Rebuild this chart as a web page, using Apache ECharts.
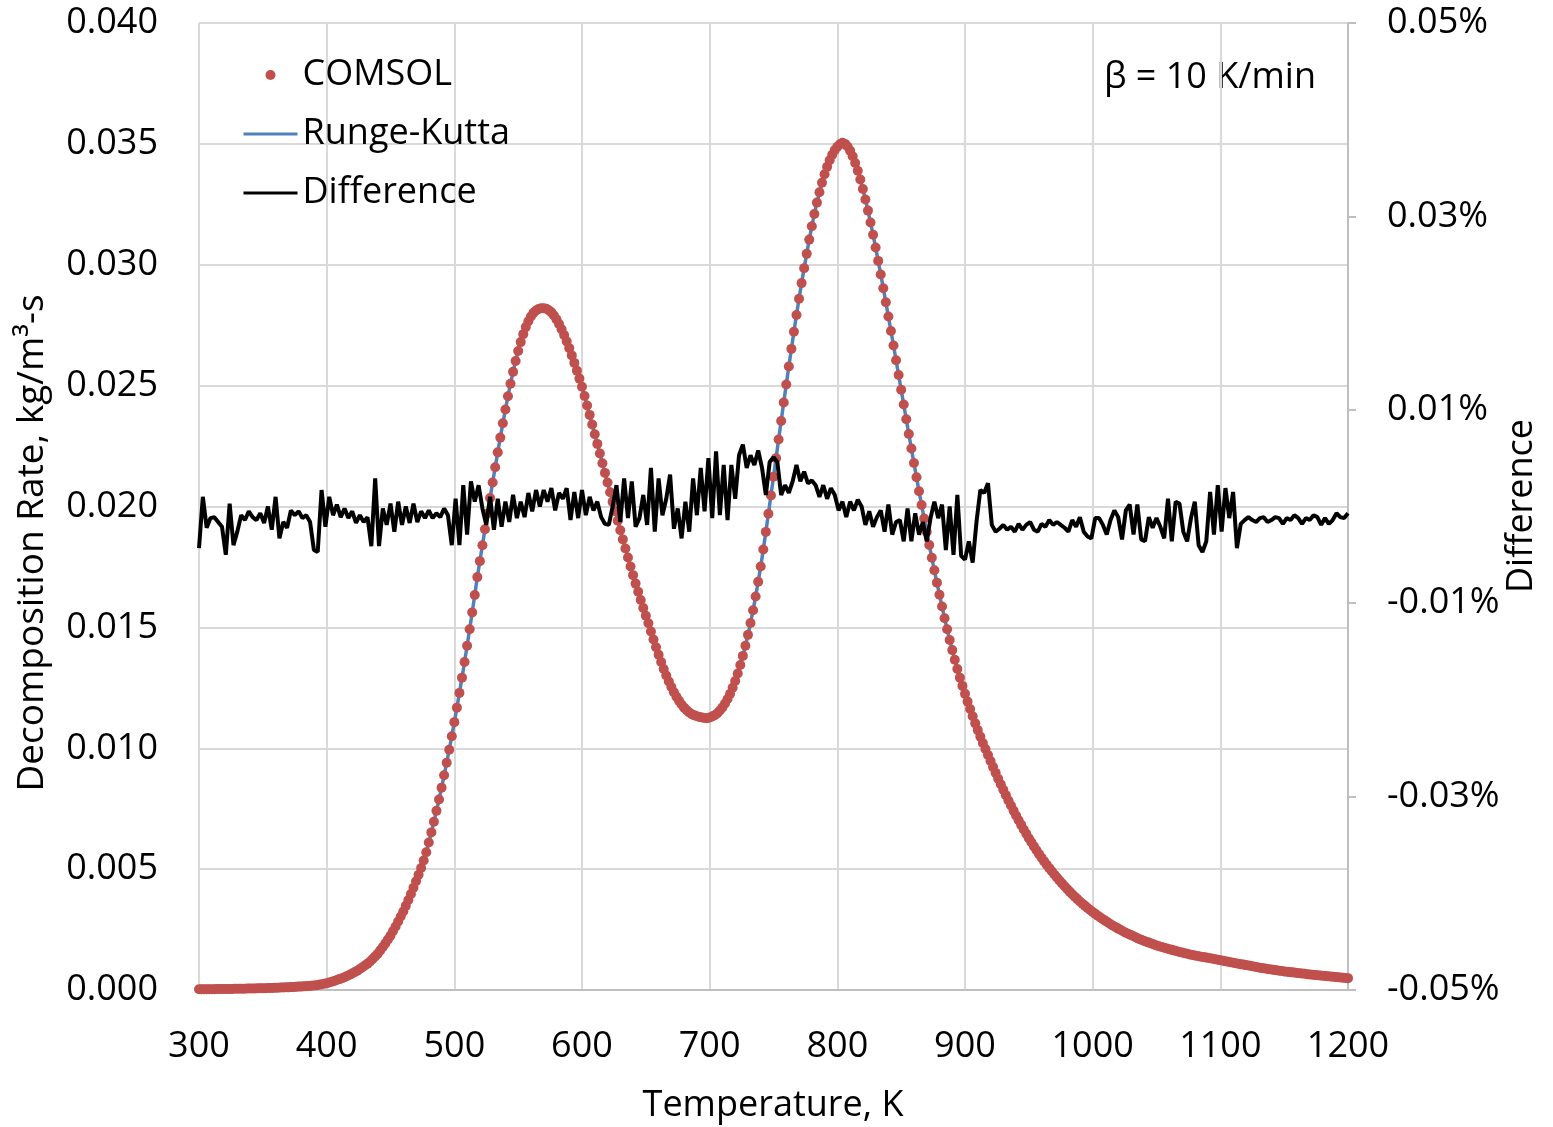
<!DOCTYPE html>
<html>
<head>
<meta charset="utf-8">
<script src="https://cdn.jsdelivr.net/npm/echarts@6/dist/echarts.min.js"></script>
<style>
html,body{margin:0;padding:0;background:#fff;}
#chart{width:1553px;height:1127px;}
</style>
</head>
<body>
<div id="chart"></div>
<script>
// Temperature grid (K)
const T_START = 300;
const RATE_STEP = 2;   // COMSOL / Runge-Kutta sample spacing, K
const DIFF_STEP = 3;   // Difference sample spacing, K

// Decomposition rate, kg/m3-s, T = 300, 302, ... 1200 (5 values per 10 K row)
const rate = [
0.00003,0.00003,0.00003,0.00003,0.00003,
0.00003,0.00003,0.00004,0.00004,0.00004,
0.00004,0.00004,0.00004,0.00004,0.00005,
0.00005,0.00005,0.00005,0.00005,0.00006,
0.00006,0.00006,0.00006,0.00007,0.00007,
0.00007,0.00007,0.00008,0.00008,0.00008,
0.00009,0.00009,0.00010,0.00010,0.00011,
0.00011,0.00012,0.00012,0.00013,0.00014,
0.00014,0.00015,0.00016,0.00017,0.00018,
0.00019,0.00020,0.00022,0.00024,0.00026,
0.00028,0.00031,0.00034,0.00037,0.00041,
0.00045,0.00049,0.00053,0.00058,0.00063,
0.00068,0.00074,0.00080,0.00087,0.00094,
0.00101,0.00109,0.00118,0.00128,0.00139,
0.00150,0.00164,0.00178,0.00193,0.00209,
0.00225,0.00244,0.00263,0.00283,0.00304,
0.00325,0.00348,0.00372,0.00397,0.00423,
0.00450,0.00477,0.00505,0.00536,0.00570,
0.00610,0.00652,0.00696,0.00741,0.00788,
0.00837,0.00888,0.00940,0.00994,0.01050,
0.01108,0.01168,0.01229,0.01292,0.01357,
0.01424,0.01492,0.01562,0.01634,0.01708,
0.01774,0.01840,0.01906,0.01971,0.02035,
0.02099,0.02162,0.02224,0.02285,0.02344,
0.02401,0.02456,0.02508,0.02557,0.02602,
0.02643,0.02680,0.02713,0.02742,0.02766,
0.02786,0.02801,0.02811,0.02817,0.02820,
0.02820,0.02818,0.02812,0.02803,0.02790,
0.02774,0.02755,0.02733,0.02709,0.02683,
0.02655,0.02625,0.02594,0.02562,0.02529,
0.02495,0.02457,0.02418,0.02379,0.02339,
0.02299,0.02259,0.02219,0.02179,0.02139,
0.02099,0.02059,0.02019,0.01980,0.01941,
0.01902,0.01864,0.01826,0.01789,0.01752,
0.01716,0.01681,0.01647,0.01613,0.01580,
0.01548,0.01517,0.01483,0.01450,0.01418,
0.01387,0.01357,0.01328,0.01301,0.01276,
0.01253,0.01232,0.01213,0.01196,0.01181,
0.01168,0.01157,0.01148,0.01141,0.01136,
0.01132,0.01129,0.01127,0.01125,0.01124,
0.01127,0.01131,0.01137,0.01145,0.01156,
0.01169,0.01185,0.01204,0.01225,0.01250,
0.01278,0.01309,0.01344,0.01382,0.01424,
0.01469,0.01518,0.01571,0.01628,0.01689,
0.01752,0.01822,0.01895,0.01970,0.02046,
0.02123,0.02200,0.02277,0.02354,0.02430,
0.02505,0.02579,0.02652,0.02723,0.02792,
0.02859,0.02924,0.02986,0.03045,0.03104,
0.03159,0.03210,0.03257,0.03300,0.03339,
0.03374,0.03405,0.03432,0.03455,0.03474,
0.03488,0.03498,0.03505,0.03500,0.03489,
0.03472,0.03449,0.03421,0.03389,0.03353,
0.03313,0.03270,0.03224,0.03175,0.03124,
0.03071,0.03016,0.02960,0.02903,0.02845,
0.02786,0.02726,0.02666,0.02605,0.02544,
0.02483,0.02422,0.02361,0.02300,0.02240,
0.02180,0.02121,0.02063,0.02006,0.01950,
0.01895,0.01841,0.01788,0.01736,0.01685,
0.01635,0.01586,0.01538,0.01492,0.01448,
0.01406,0.01366,0.01328,0.01292,0.01258,
0.01225,0.01193,0.01162,0.01132,0.01103,
0.01075,0.01048,0.01022,0.00997,0.00972,
0.00947,0.00922,0.00898,0.00874,0.00851,
0.00828,0.00806,0.00784,0.00763,0.00742,
0.00722,0.00702,0.00683,0.00664,0.00646,
0.00628,0.00611,0.00594,0.00578,0.00562,
0.00547,0.00532,0.00518,0.00504,0.00491,
0.00478,0.00465,0.00453,0.00441,0.00429,
0.00418,0.00407,0.00396,0.00386,0.00376,
0.00366,0.00357,0.00348,0.00339,0.00331,
0.00323,0.00315,0.00307,0.00300,0.00293,
0.00286,0.00279,0.00272,0.00266,0.00260,
0.00254,0.00248,0.00242,0.00237,0.00232,
0.00227,0.00222,0.00217,0.00212,0.00208,
0.00204,0.00200,0.00196,0.00192,0.00188,
0.00184,0.00181,0.00178,0.00175,0.00172,
0.00169,0.00166,0.00163,0.00160,0.00157,
0.00155,0.00152,0.00150,0.00147,0.00145,
0.00143,0.00141,0.00139,0.00137,0.00135,
0.00133,0.00131,0.00129,0.00127,0.00125,
0.00123,0.00121,0.00119,0.00117,0.00115,
0.00113,0.00111,0.00109,0.00107,0.00105,
0.00103,0.00101,0.00099,0.00097,0.00095,
0.00093,0.00091,0.00090,0.00088,0.00086,
0.00085,0.00083,0.00082,0.00080,0.00079,
0.00077,0.00076,0.00074,0.00073,0.00072,
0.00070,0.00069,0.00068,0.00067,0.00065,
0.00064,0.00063,0.00062,0.00061,0.00060,
0.00059,0.00058,0.00057,0.00056,0.00055,
0.00054,0.00053,0.00052,0.00051,0.00050,
0.00049
];

// Difference between COMSOL and Runge-Kutta, in percent, T = 300, 303, ... 1200
const difference = [
-0.0043,0.0010,-0.0022,-0.0012,-0.0011,-0.0016,-0.0021,-0.0050,0.0003,-0.0040,
-0.0026,-0.0009,-0.0014,-0.0005,-0.0011,-0.0014,-0.0007,-0.0017,0.0000,-0.0024,
0.0010,-0.0033,-0.0016,-0.0022,-0.0004,-0.0009,-0.0005,-0.0012,-0.0009,-0.0016,
-0.0045,-0.0047,0.0017,-0.0021,0.0010,-0.0009,0.0002,-0.0011,-0.0002,-0.0012,
-0.0005,-0.0017,-0.0009,-0.0016,-0.0011,-0.0041,0.0029,-0.0041,-0.0002,-0.0019,
0.0003,-0.0026,0.0005,-0.0019,0.0000,-0.0017,0.0003,-0.0016,-0.0005,-0.0012,
-0.0004,-0.0012,-0.0007,-0.0011,-0.0002,-0.0009,-0.0040,0.0008,-0.0040,0.0022,
-0.0029,0.0026,0.0005,0.0022,-0.0002,-0.0019,0.0010,-0.0024,0.0008,-0.0021,
0.0005,-0.0016,0.0012,-0.0012,0.0005,-0.0011,0.0014,-0.0005,0.0017,0.0000,
0.0017,0.0005,0.0019,-0.0004,0.0014,0.0008,0.0019,-0.0014,0.0015,-0.0012,
0.0017,-0.0009,0.0010,-0.0004,0.0005,-0.0011,-0.0018,-0.0019,0.0000,0.0022,
-0.0016,0.0029,-0.0012,0.0026,-0.0021,-0.0012,0.0012,-0.0019,0.0040,-0.0026,
0.0029,-0.0009,0.0008,0.0033,-0.0023,-0.0002,-0.0033,0.0005,-0.0026,0.0029,
-0.0009,0.0040,-0.0005,0.0050,-0.0012,0.0057,-0.0009,0.0043,-0.0014,0.0043,
0.0008,0.0053,0.0064,0.0040,0.0053,0.0043,0.0058,0.0040,0.0012,0.0046,
0.0051,0.0046,0.0012,0.0022,0.0014,0.0026,0.0043,0.0026,0.0036,0.0024,
0.0027,0.0022,0.0010,0.0022,0.0008,0.0019,0.0012,-0.0004,0.0005,-0.0011,
0.0005,-0.0004,0.0007,0.0000,-0.0019,-0.0005,-0.0021,-0.0011,-0.0004,-0.0026,
0.0002,-0.0029,-0.0016,-0.0014,-0.0036,-0.0002,-0.0036,-0.0007,-0.0029,-0.0016,
-0.0036,-0.0012,0.0005,-0.0012,0.0002,-0.0045,0.0000,-0.0050,0.0012,-0.0051,
-0.0055,-0.0036,-0.0058,-0.0016,0.0017,0.0014,0.0024,-0.0019,-0.0026,-0.0023,
-0.0019,-0.0024,-0.0021,-0.0026,-0.0018,-0.0024,-0.0019,-0.0016,-0.0024,-0.0026,
-0.0018,-0.0021,-0.0014,-0.0019,-0.0016,-0.0019,-0.0022,-0.0026,-0.0014,-0.0021,
-0.0011,-0.0026,-0.0031,-0.0033,-0.0012,-0.0012,-0.0019,-0.0029,-0.0014,-0.0004,
-0.0011,-0.0034,-0.0004,0.0002,-0.0029,0.0002,-0.0034,-0.0036,-0.0011,-0.0022,
-0.0012,-0.0021,-0.0033,0.0008,-0.0036,0.0005,0.0003,-0.0026,-0.0036,-0.0012,
0.0005,-0.0040,-0.0047,-0.0036,0.0015,-0.0029,0.0022,-0.0026,0.0019,-0.0012,
0.0015,-0.0043,-0.0018,-0.0014,-0.0011,-0.0014,-0.0016,-0.0012,-0.0011,-0.0016,
-0.0014,-0.0011,-0.0012,-0.0018,-0.0012,-0.0014,-0.0009,-0.0012,-0.0018,-0.0012,
-0.0014,-0.0009,-0.0011,-0.0019,-0.0012,-0.0018,-0.0014,-0.0007,-0.0011,-0.0012,
-0.0007
];

const seriesNames = ['COMSOL', 'Runge-Kutta', 'Difference'];
const xTitle = 'Temperature, K';
const yLeftTitle = 'Decomposition Rate, kg/m³-s';
const yRightTitle = 'Difference';
const noteText = 'β = 10 K/min';

const FONT = '"Open Sans", "Noto Sans", sans-serif';
const RED = '#c0504d', BLUE = '#4f81bd', BLACK = '#000000';

const rateData = rate.map((v, i) => [T_START + i * RATE_STEP, v]);
const diffData = difference.map((v, i) => [T_START + i * DIFF_STEP, v]);

const chart = echarts.init(document.getElementById('chart'), null, {renderer: 'canvas'});
chart.setOption({
  animation: false,
  backgroundColor: '#ffffff',
  textStyle: {fontFamily: FONT},
  grid: {left: 199, right: 205, top: 23, bottom: 137, containLabel: false},
  legend: {
    orient: 'vertical',
    left: 242,
    top: 53,
    padding: 0,
    itemWidth: 54,
    itemHeight: 10,
    itemGap: 15,
    selectedMode: false,
    textStyle: {fontFamily: FONT, fontSize: 36, color: '#000', lineHeight: 44},
    data: [
      {name: seriesNames[0], icon: 'circle', itemStyle: {color: RED}},
      {name: seriesNames[1], itemStyle: {opacity: 0}, lineStyle: {color: BLUE, width: 3, opacity: 1}},
      {name: seriesNames[2], itemStyle: {opacity: 0}, lineStyle: {color: BLACK, width: 3, opacity: 1}}
    ]
  },
  xAxis: {
    type: 'value',
    min: 300, max: 1200, interval: 100,
    axisLine: {show: true, lineStyle: {color: '#bfbfbf', width: 2}},
    axisTick: {show: false},
    axisLabel: {fontFamily: FONT, fontSize: 36, color: '#000', margin: 39,
      formatter: v => String(v)},
    splitLine: {show: true, lineStyle: {color: '#d9d9d9', width: 2}}
  },
  yAxis: [
    {
      type: 'value',
      min: 0, max: 0.04, interval: 0.005,
      axisLine: {show: false},
      axisTick: {show: false},
      axisLabel: {fontFamily: FONT, fontSize: 36, color: '#000', margin: 41,
        formatter: v => v.toFixed(3)},
      splitLine: {show: true, lineStyle: {color: '#d9d9d9', width: 2}}
    },
    {
      type: 'value',
      position: 'right',
      min: -0.05, max: 0.05, interval: 0.02,
      axisLine: {show: true, lineStyle: {color: '#bfbfbf', width: 2}},
      axisTick: {show: true, inside: false, length: 8, lineStyle: {color: '#bfbfbf', width: 2}},
      axisLabel: {fontFamily: FONT, fontSize: 36, color: '#000', margin: 39,
        formatter: v => v.toFixed(2) + '%'},
      splitLine: {show: false}
    }
  ],
  series: [
    {
      name: seriesNames[1],
      type: 'line',
      yAxisIndex: 0,
      data: rateData,
      showSymbol: false,
      symbol: 'none',
      lineStyle: {color: BLUE, width: 3.5},
      itemStyle: {color: BLUE},
      z: 2
    },
    {
      name: seriesNames[0],
      type: 'scatter',
      yAxisIndex: 0,
      data: rateData,
      symbol: 'circle',
      symbolSize: 10,
      itemStyle: {color: RED, opacity: 1},
      z: 3
    },
    {
      name: seriesNames[2],
      type: 'line',
      yAxisIndex: 1,
      data: diffData,
      showSymbol: false,
      symbol: 'none',
      lineStyle: {color: BLACK, width: 4},
      itemStyle: {color: BLACK},
      z: 4
    }
  ],
  graphic: [
    {type: 'text', x: 773, y: 1106,
      style: {text: xTitle, font: '36px ' + FONT, fill: '#000', align: 'center', verticalAlign: 'middle'}},
    {type: 'text', x: 32, y: 543, rotation: Math.PI / 2,
      style: {text: yLeftTitle, font: '37px ' + FONT, fill: '#000', align: 'center', verticalAlign: 'middle'}},
    {type: 'text', x: 1522, y: 506, rotation: Math.PI / 2,
      style: {text: yRightTitle, font: '36px ' + FONT, fill: '#000', align: 'center', verticalAlign: 'middle'}},
    {type: 'text', x: 1316, y: 78,
      style: {text: noteText, font: '36px ' + FONT, fill: '#000', align: 'right', verticalAlign: 'middle'}}
  ]
});
</script>
</body>
</html>
